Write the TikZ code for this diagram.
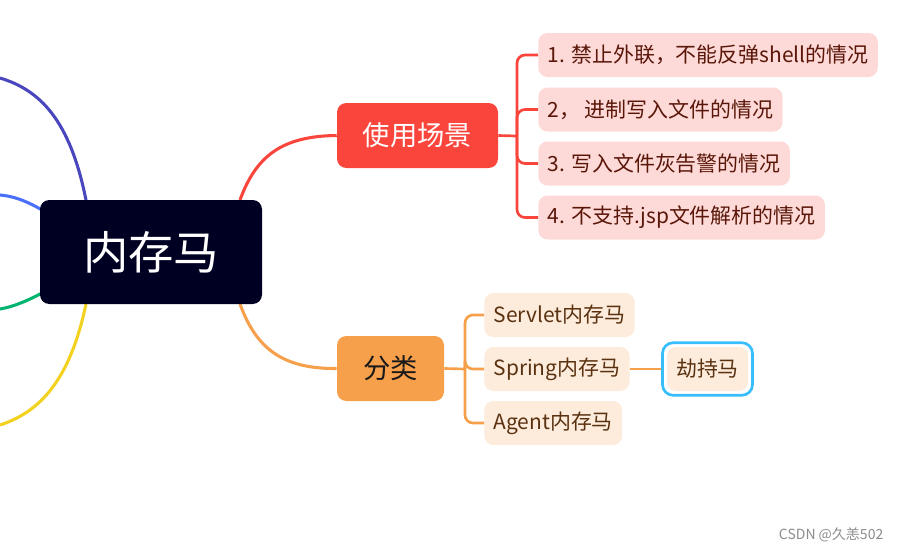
\documentclass[tikz,border=0pt]{standalone}
\usepackage{fontspec}
\setmainfont{Noto Sans CJK SC}
\usetikzlibrary{fit}

\definecolor{rootfill}{HTML}{000022}
\definecolor{usered}{HTML}{FA453C}
\definecolor{usepink}{HTML}{FDDAD8}
\definecolor{usetext}{HTML}{5A1608}
\definecolor{kindorange}{HTML}{F6A04C}
\definecolor{kindpeach}{HTML}{FDEBDC}
\definecolor{kindtext}{HTML}{5A3210}
\definecolor{ringblue}{HTML}{38BEFC}
\definecolor{lpurple}{HTML}{4A46BE}
\definecolor{lblue}{HTML}{4A70FA}
\definecolor{lgreen}{HTML}{00B470}
\definecolor{lyellow}{HTML}{F2D21E}

\tikzset{
	rootbox/.style={fill=rootfill, rounded corners=7pt, text=white, minimum width=166.5pt, minimum height=78pt, font=\fontsize{34}{38}\selectfont},
	mainbox/.style={rounded corners=7pt, minimum height=48.75pt, font=\fontsize{20.5}{24}\selectfont},
	leafbox/.style={rounded corners=7pt, minimum height=33pt, inner xsep=7pt, anchor=west, font=\fontsize{15.7}{18}\selectfont},
	useleaf/.style={leafbox, fill=usepink, text=usetext},
	kindleaf/.style={leafbox, fill=kindpeach, text=kindtext},
	branch/.style={line width=2.3pt},
	twig/.style={line width=2pt, rounded corners=6pt},
}

\begin{document}
\begin{tikzpicture}[x=0.75pt, y=-0.75pt]
			%%%%% START %%%%%
			\useasboundingbox (0,0) rectangle (903,551);
			
			% left branches, cut off by the frame
			\coordinate (purpleend) at (0,78);
			\coordinate (blueend) at (0,195);
			\coordinate (greenend) at (0,309);
			\coordinate (yellowend) at (0,425);
			\draw[branch, lpurple] (86,200) .. controls (70,120) and (40,90) .. (purpleend);
			\draw[branch, lblue] (42,210) .. controls (25,200) and (12,196) .. (blueend);
			\draw[branch, lgreen] (42,293) .. controls (25,302) and (12,307) .. (greenend);
			\draw[branch, lyellow] (86,304) .. controls (70,380) and (40,412) .. (yellowend);
			
			% right branches
			\coordinate (rootup) at (240,200);
			\coordinate (rootdown) at (240,304);
			
			\node[mainbox, fill=usered, text=white, minimum width=120.75pt] (use) at (417.5,135.5) {使用场景};
			\node[mainbox, fill=kindorange, text=black!90, minimum width=80.25pt] (kind) at (390.5,368.5) {分类};
			
			\draw[branch, usered] (rootup) .. controls (256,156) and (282,136) .. (use.west);
			\draw[branch, kindorange] (rootdown) .. controls (256,348) and (282,369) .. (kind.west);
			
			\node[rootbox] (root) at (151,252) {内存马};
			
			% 使用场景
			\node[useleaf] (use1) at (538,55) {1. 禁止外联，不能反弹shell的情况};
			\node[useleaf] (use2) at (538,109.5) {2， 进制写入文件的情况};
			\node[useleaf] (use3) at (538,163.5) {3. 写入文件灰告警的情况};
			\node[useleaf] (use4) at (538,217.5) {4. 不支持.jsp文件解析的情况};
			
			\coordinate (usehub) at (517,136);
			\draw[twig, usered] (use.east) -- (usehub);
			\foreach \n in {use1,use2,use3,use4}
				\draw[twig, usered] (usehub) |- (\n.west);
			
			% 分类
			\node[kindleaf] (servlet) at (484,315) {Servlet内存马};
			\node[kindleaf] (spring) at (484,369) {Spring内存马};
			\node[kindleaf] (agent) at (484,423) {Agent内存马};
			
			\coordinate (kindhub) at (465,369);
			\draw[twig, kindorange] (kind.east) -- (kindhub);
			\foreach \n in {servlet,spring,agent}
				\draw[twig, kindorange] (kindhub) |- (\n.west);
			
			\node[leafbox, anchor=center, fill=kindpeach, text=kindtext, minimum width=59.25pt] (hijack) at (707.5,369) {劫持马};
			\node[draw=ringblue, line width=2pt, rounded corners=8pt, inner sep=3pt, fit=(hijack)] (hijackring) {};
			\draw[twig, kindorange] (spring.east) -- (hijackring.west);
			
			\node[anchor=east, text=black!45, font=\fontsize{10.5}{12}\selectfont] (mark) at (888,535) {CSDN @久恙502};
			%%%%% END %%%%%
\end{tikzpicture}
\end{document}
